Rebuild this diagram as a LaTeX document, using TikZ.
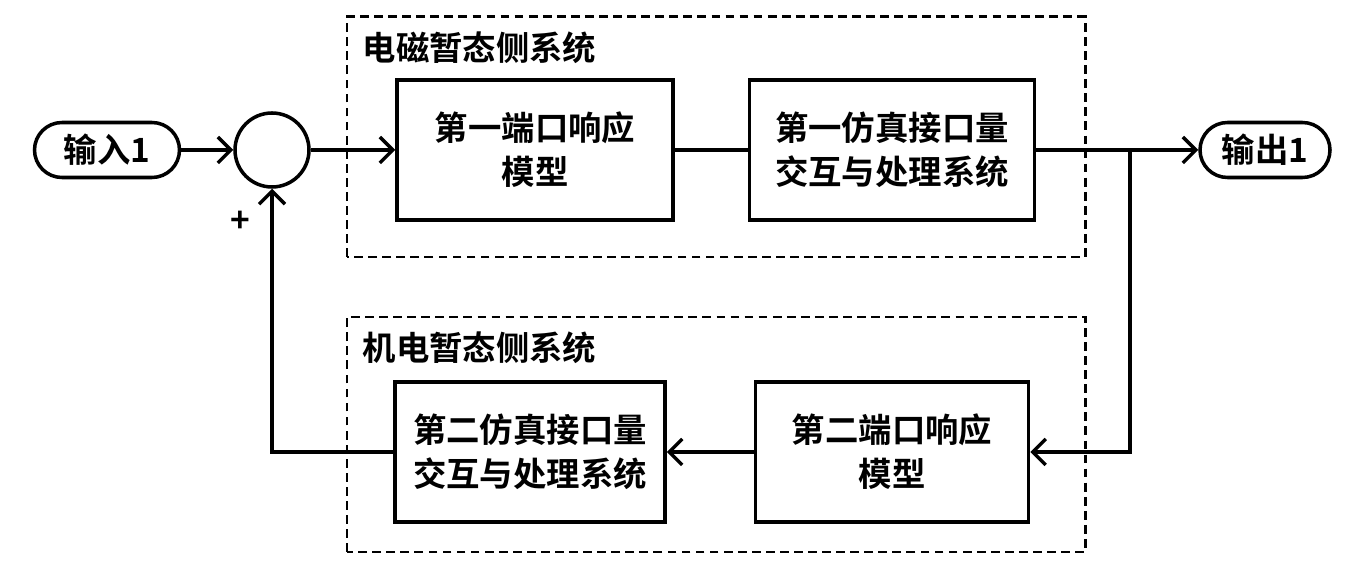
\documentclass[tikz,border=0pt]{standalone}
\usepackage{fontspec}
\setmainfont{Noto Sans CJK SC}[BoldFont={Noto Sans CJK SC Bold}]
\usetikzlibrary{arrows.meta,positioning}

\tikzset{
  flow/.style={-{Straight Barb[length=2.6mm,width=5.2mm,line width=2pt]}},
  blk/.style={rectangle, draw=black, line width=2pt, minimum height=2.8cm, text centered, align=center},
  term/.style={rectangle, rounded corners=0.55cm, draw=black, line width=2pt, minimum width=2.7cm, minimum height=1.1cm},
  sumnode/.style={circle, draw=black, line width=2pt, minimum size=1.48cm, inner sep=0pt},
  grp/.style={draw=black, line width=1.7pt, dash pattern=on 5pt off 3pt},
}

\begin{document}
\begin{tikzpicture}[node distance=3.3cm, line width=2pt, font=\fontsize{19}{25}\selectfont\bfseries]
\useasboundingbox (0,0) rectangle (27.24,11.46);

% 两个分区
\draw[grp] (6.94,6.32) rectangle (21.70,11.12);
\draw[grp] (6.94,0.42) rectangle (21.70,5.12);
\node (lbltop) [anchor=west] at (7.1,10.5) {电磁暂态侧系统};
\node (lblbot) [anchor=west] at (7.1,4.5) {机电暂态侧系统};

% 上面一行
\node (in1) [term, minimum width=2.9cm] at (2.14,8.46) {输入1};
\node (sum) [sumnode, right of=in1] {};
\node (box1) [blk, minimum width=5.52cm, right of=sum, xshift=1.96cm] {第一端口响应\\模型};
\node (box2) [blk, minimum width=5.7cm, right of=box1, xshift=3.84cm] {第一仿真接口量\\交互与处理系统};
\node (out1) [term, minimum width=2.6cm, right of=box2, xshift=4.16cm] {输出1};

% 下面一行
\node (box4) [blk, minimum width=5.46cm, below of=box2, yshift=-2.74cm] {第二端口响应\\模型};
\node (box3) [blk, minimum width=5.4cm, below of=box1, xshift=-0.1cm, yshift=-2.74cm] {第二仿真接口量\\交互与处理系统};

\coordinate (tap) at (22.6,8.46);
\node (plus) at (4.8,7.02) {+};

% 连线
\draw[flow] (in1) -- (sum);
\draw[flow] (sum) -- (box1);
\draw (box1) -- (box2);
\draw[flow] (box2) -- (out1);
\draw[flow] (tap) |- (box4);
\draw[flow] (box4) -- (box3);
\draw[flow] (box3.west) -| (sum.south);

\end{tikzpicture}
\end{document}
